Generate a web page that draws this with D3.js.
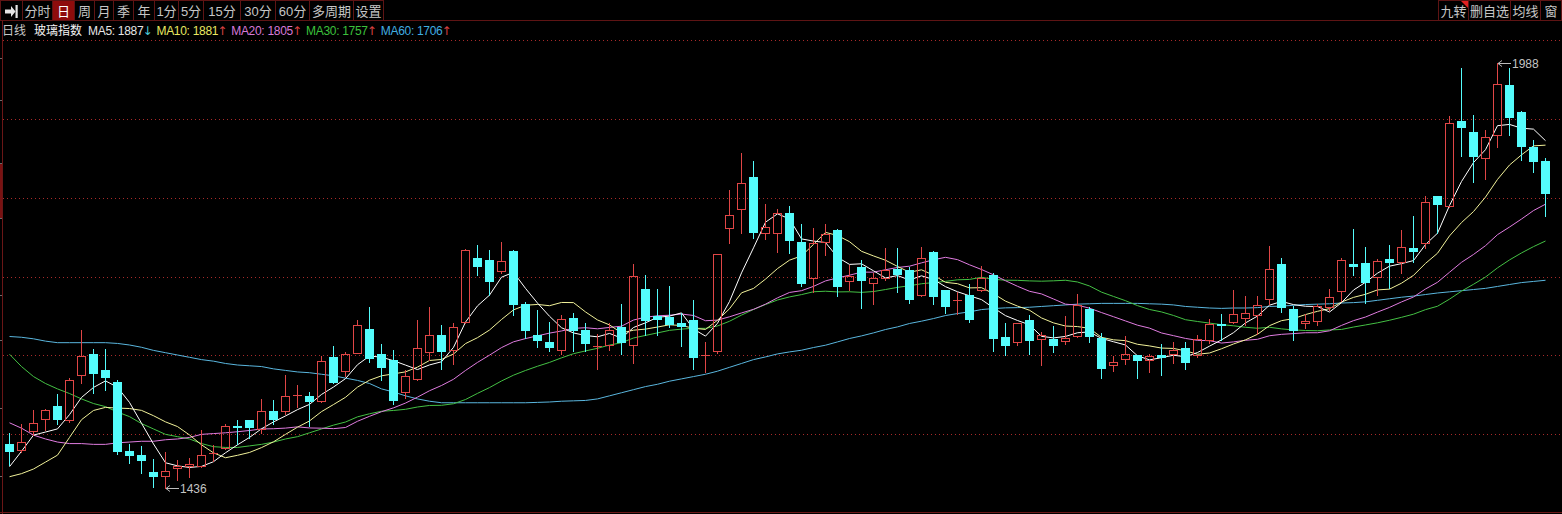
<!DOCTYPE html>
<html><head><meta charset="utf-8">
<script src="https://cdn.jsdelivr.net/npm/d3@7"></script>
<style>
html,body{margin:0;padding:0;background:#000;overflow:hidden}
svg{display:block}
text{font-family:"Liberation Sans",Arial,"Noto Sans CJK SC",sans-serif}
</style></head><body>
<svg id="c" width="1562" height="514"></svg>
<script>
// ---------------- data ----------------
const opens = [
1494.0,1486.2,1510.4,1526.4,1542.5,1525.1,1582.7,1610.0,1590.1,1573.6,
1484.0,1478.8,1456.7,1452.4,1462.8,1464.6,1464.6,1481.0,1488.8,1517.0,
1524.3,1513.5,1536.0,1536.4,1556.0,1555.5,1549.4,1606.5,1588.4,1611.7,
1642.5,1610.9,1603.1,1561.1,1578.4,1613.0,1635.6,1615.2,1652.0,1734.3,
1732.1,1718.3,1744.2,1675.8,1635.6,1625.6,1616.1,1657.6,1641.2,1619.0,
1621.7,1645.5,1621.7,1695.3,1659.0,1658.5,1650.0,1654.2,1608.0,1614.3,
1773.3,1797.9,1840.4,1767.6,1767.6,1792.7,1755.9,1709.6,1755.9,1771.1,
1705.3,1723.5,1702.7,1709.6,1720.0,1719.1,1686.7,1742.9,1693.1,1680.0,
1686.7,1694.0,1712.6,1632.5,1626.0,1654.2,1630.4,1630.4,1627.3,1633.4,
1669.3,1631.7,1595.7,1604.4,1608.7,1603.1,1608.5,1610.9,1618.7,1608.7,
1628.2,1649.0,1652.0,1657.6,1661.5,1682.3,1726.9,1669.3,1649.9,1653.3,
1671.5,1692.3,1727.0,1728.7,1710.5,1733.0,1730.0,1748.0,1753.8,1815.3,
1802.3,1913.1,1898.8,1864.2,1894.5,1959.4,1924.8,1878.5,1861.2];
const highs = [
1507.8,1519.1,1537.3,1539.0,1558.1,1579.0,1641.2,1617.4,1617.4,1577.1,
1493.1,1490.5,1474.5,1483.1,1473.2,1475.8,1511.3,1491.8,1519.9,1525.1,
1525.0,1552.4,1550.3,1582.7,1569.7,1561.1,1607.4,1620.4,1613.0,1654.2,
1671.5,1623.9,1615.2,1589.2,1655.0,1671.5,1647.7,1649.9,1746.0,1751.6,
1745.1,1755.9,1745.0,1678.0,1667.2,1652.0,1660.7,1663.7,1650.7,1636.9,
1649.9,1675.0,1726.9,1712.6,1695.3,1698.3,1663.7,1681.0,1626.0,1740.0,
1823.0,1870.7,1860.7,1804.9,1797.9,1802.3,1778.9,1773.3,1778.9,1772.0,
1725.6,1732.1,1714.8,1747.3,1747.3,1723.5,1748.6,1744.0,1693.5,1691.0,
1701.8,1724.3,1715.0,1649.9,1651.0,1660.7,1639.0,1646.4,1659.4,1687.9,
1671.0,1637.7,1607.4,1633.4,1609.0,1610.9,1623.9,1626.0,1626.0,1634.7,
1656.3,1662.0,1694.0,1685.4,1685.4,1750.3,1734.3,1672.0,1662.0,1675.8,
1695.3,1734.3,1772.0,1748.6,1733.0,1751.6,1771.1,1789.3,1815.3,1816.0,
1919.2,1981.1,1920.5,1901.0,1988.0,1981.1,1926.0,1888.0,1864.2];
const lows = [
1465.8,1483.0,1504.8,1511.3,1519.9,1522.1,1572.8,1559.8,1563.2,1480.1,
1468.9,1455.9,1437.7,1436.0,1447.2,1450.7,1463.0,1471.5,1487.5,1494.0,
1501.8,1507.8,1519.9,1532.9,1541.6,1516.5,1548.0,1572.8,1581.4,1611.0,
1600.1,1576.2,1545.9,1553.7,1576.2,1602.2,1591.4,1597.9,1650.0,1712.6,
1686.7,1714.8,1660.7,1631.7,1619.5,1614.3,1610.0,1614.3,1614.3,1591.4,
1615.2,1610.0,1598.8,1634.7,1634.7,1645.5,1620.4,1591.4,1587.1,1612.0,
1754.6,1767.6,1760.3,1759.0,1742.9,1740.8,1698.3,1691.0,1738.6,1685.4,
1694.0,1670.6,1675.8,1706.1,1691.0,1676.7,1686.0,1675.0,1663.7,1662.0,
1652.0,1692.0,1614.3,1608.7,1621.7,1610.0,1595.7,1613.0,1623.0,1632.0,
1626.0,1579.7,1588.4,1597.0,1579.7,1587.1,1582.7,1598.8,1591.4,1607.0,
1624.7,1628.2,1650.0,1647.7,1636.0,1675.8,1665.0,1628.2,1643.4,1647.7,
1668.0,1679.3,1712.6,1676.7,1686.7,1696.6,1715.7,1730.0,1747.3,1767.6,
1801.0,1867.2,1833.9,1836.9,1878.5,1894.5,1862.0,1846.9,1789.3];
const closes = [
1484.4,1496.1,1520.8,1538.1,1526.0,1577.1,1607.4,1585.8,1580.6,1484.4,
1478.8,1472.3,1451.5,1458.5,1464.5,1468.0,1479.7,1482.0,1516.5,1516.0,
1515.6,1536.0,1526.4,1555.5,1557.0,1549.4,1600.9,1574.1,1610.0,1647.7,
1605.7,1593.6,1551.1,1581.4,1618.7,1635.6,1614.3,1644.7,1745.1,1724.3,
1705.3,1730.8,1675.8,1641.2,1629.1,1619.5,1656.3,1642.1,1624.7,1620.5,
1641.2,1626.0,1711.3,1655.0,1656.0,1649.0,1647.0,1606.5,1609.0,1739.5,
1790.6,1832.6,1768.9,1775.4,1793.6,1758.1,1702.7,1754.6,1765.9,1698.3,
1711.3,1707.0,1709.2,1719.1,1713.9,1682.3,1734.3,1685.4,1672.4,1681.0,
1656.3,1709.6,1631.7,1621.7,1649.9,1628.2,1634.7,1621.7,1631.2,1673.7,
1633.4,1592.7,1600.1,1610.0,1603.1,1607.4,1607.0,1616.1,1600.1,1630.4,
1649.0,1647.5,1662.8,1663.7,1674.5,1720.0,1671.5,1642.1,1653.3,1672.4,
1684.5,1732.1,1724.0,1704.0,1731.3,1730.0,1748.6,1744.0,1807.9,1804.9,
1909.6,1904.5,1867.2,1891.5,1960.7,1917.4,1880.2,1861.2,1819.6];

const ma5 = [
1464,1484,1505,1509,1513.1,1531.6,1553.9,1566.9,1575.4,1567.1,
1547.4,1520.4,1493.5,1469.1,1465.1,1463.0,1464.4,1470.5,1482.1,1492.4,
1502.0,1513.2,1522.1,1529.9,1538.1,1544.9,1557.8,1567.4,1578.3,1596.4,
1607.7,1606.2,1601.6,1595.9,1590.1,1596.1,1600.2,1618.9,1651.7,1672.8,
1686.7,1710.0,1716.3,1695.5,1676.4,1659.3,1644.4,1637.6,1634.3,1632.6,
1637.0,1630.9,1644.7,1650.8,1657.9,1659.5,1663.7,1642.7,1633.5,1650.2,
1678.5,1715.6,1748.1,1781.4,1792.2,1785.7,1759.7,1756.9,1755.0,1735.9,
1726.6,1727.4,1718.3,1709.0,1712.1,1706.3,1711.8,1707.0,1697.7,1691.1,
1685.9,1680.9,1670.2,1660.1,1653.8,1648.2,1633.2,1631.2,1633.1,1637.9,
1638.9,1630.5,1626.2,1622.0,1607.9,1602.7,1605.5,1608.7,1606.7,1612.2,
1620.5,1628.6,1638.0,1650.7,1659.5,1673.7,1678.5,1674.4,1672.3,1671.9,
1664.8,1676.9,1693.3,1703.4,1715.2,1724.3,1727.6,1731.6,1752.4,1767.1,
1803.0,1834.2,1858.8,1875.5,1906.7,1908.3,1903.4,1902.2,1887.2];
const ma10 = [
1451,1455,1461,1470,1479,1502,1525,1537,1541,1540.1,
1539.5,1537.1,1530.2,1522.2,1516.1,1505.2,1492.4,1482.0,1475.6,1478.8,
1482.5,1488.8,1496.3,1506.0,1515.3,1523.4,1535.5,1544.7,1554.1,1567.3,
1576.3,1582.0,1584.5,1587.1,1593.3,1601.9,1603.2,1610.3,1623.8,1631.5,
1641.4,1655.1,1667.6,1673.6,1674.6,1673.0,1677.2,1677.0,1664.9,1654.5,
1648.1,1637.6,1641.2,1642.6,1645.3,1648.2,1647.3,1643.7,1642.2,1654.1,
1669.0,1689.7,1695.4,1707.5,1721.2,1732.1,1737.7,1752.5,1768.2,1764.1,
1756.1,1743.6,1737.6,1732.0,1724.0,1716.4,1719.6,1712.7,1703.3,1701.6,
1696.1,1696.4,1688.6,1678.9,1672.5,1667.1,1657.1,1650.7,1646.6,1645.9,
1643.6,1631.9,1628.7,1627.6,1622.9,1620.8,1618.0,1617.5,1614.4,1610.0,
1611.6,1617.1,1623.3,1628.7,1635.9,1647.1,1653.6,1656.2,1661.5,1665.7,
1669.2,1677.7,1683.8,1687.8,1693.5,1694.5,1702.2,1712.4,1727.9,1741.1,
1763.6,1780.9,1795.2,1814.0,1836.9,1855.6,1868.8,1880.5,1881.4];
const ma20 = [
1521,1514,1505,1500,1496,1494,1494,1493,1493,1495,
1496,1497,1497,1499,1500,1502,1506,1507,1508,1509.4,
1511.0,1513.0,1513.3,1514.1,1515.7,1514.3,1514.0,1513.4,1514.9,1523.0,
1529.4,1535.4,1540.4,1546.6,1554.3,1562.6,1569.4,1577.5,1588.9,1599.4,
1608.8,1618.6,1626.1,1630.3,1633.9,1637.4,1640.2,1643.6,1644.4,1643.0,
1644.8,1646.4,1654.4,1658.1,1659.9,1660.6,1662.2,1660.3,1653.5,1654.3,
1658.6,1663.6,1668.3,1675.0,1683.2,1690.2,1692.5,1698.1,1705.2,1709.1,
1712.6,1716.6,1716.5,1719.7,1722.6,1724.3,1728.6,1732.6,1735.8,1732.8,
1726.1,1720.0,1713.1,1705.4,1698.2,1691.7,1688.3,1681.7,1675.0,1673.7,
1669.8,1664.1,1658.7,1653.2,1647.7,1643.9,1637.6,1634.1,1630.5,1628.0,
1627.6,1624.5,1626.0,1628.1,1629.4,1634.0,1635.8,1636.8,1637.9,1637.9,
1640.4,1647.4,1653.6,1658.3,1664.7,1670.8,1677.9,1684.3,1694.7,1703.4,
1716.4,1729.3,1739.5,1750.9,1765.2,1775.1,1785.5,1796.5,1804.8];
const ma30 = [
1610,1594,1581,1572,1565,1559,1552,1546,1542,1535,
1529,1520,1513,1506,1503,1500,1494,1490,1489,1489,
1491,1493,1496,1500,1503,1508,1513,1518,1522,1528.7,
1532.7,1536.0,1537.0,1538.5,1541.5,1543.5,1543.7,1545.7,1551.2,1559.2,
1566.7,1575.3,1582.8,1588.9,1594.4,1599.4,1605.3,1610.7,1614.3,1617.7,
1621.9,1624.9,1631.1,1634.4,1637.7,1641.0,1642.6,1643.7,1643.6,1646.7,
1652.8,1660.8,1668.1,1674.5,1680.4,1684.4,1687.4,1691.1,1691.8,1690.9,
1691.1,1690.3,1691.4,1694.0,1696.8,1698.9,1701.5,1703.0,1704.6,1706.6,
1707.1,1709.9,1707.2,1706.1,1705.9,1705.2,1704.8,1705.3,1706.0,1703.8,
1698.6,1690.6,1685.0,1679.5,1673.1,1668.1,1664.9,1660.3,1654.8,1652.5,
1650.4,1648.4,1646.9,1645.0,1643.7,1645.0,1642.9,1641.5,1640.8,1640.5,
1641.5,1642.2,1645.3,1648.0,1650.8,1654.1,1657.9,1662.0,1667.9,1672.3,
1681.5,1691.9,1700.8,1710.2,1722.1,1732.4,1741.5,1749.7,1757.0];
const ma60 = [
1633,1632,1630,1627,1625,1625,1625,1625,1625,1624,
1622,1619,1615,1612,1609,1606,1603,1601,1598,1596,
1595,1594,1591,1589,1587,1586,1584,1582,1579,1576,
1572,1565,1561,1556,1552,1549,1547,1547,1547,1547,
1547,1547,1547,1547,1547.5,1548,1549,1549.5,1550,1552,
1556,1560,1564,1568,1571,1575,1578,1581,1584,1588,
1593,1598,1603,1606.5,1610.4,1613,1615.2,1618.7,1621.7,1626,
1630.4,1633.8,1637.7,1642.1,1645.5,1649.9,1652.9,1656.3,1660.2,1662.8,
1665,1668,1669.3,1670.2,1670.5,1671,1672,1673,1674,1675,
1675.5,1676,1676,1676,1676,1675.5,1675,1674,1672,1671,
1670,1669.5,1670,1670,1670.5,1672,1672.5,1673.5,1674.5,1675,
1675.5,1676.5,1677,1678,1680,1682,1684,1685.5,1687.5,1689.5,
1691,1692.5,1694,1695.5,1698,1700.5,1703,1704.5,1706];

const maNames = ["MA5","MA10","MA20","MA30","MA60"];
const periodTabs = ["分时","日","周","月","季","年","1分","5分","15分","30分","60分","多周期","设置"];
const activeTab = "日";
const rightTabs = ["九转","删自选","均线","窗"];
const periodName = "日线";
const indexName = "玻璃指数";
const priceDomain = [1403.9, 2017.9];

// ---------------- layout / style ----------------
const W = 1562, H = 514;
const plotTop = 40, plotBottom = 513;
const UP = "#e04646", DOWN = "#54fcfc";
const maColors = ["#ffffff", "#f2f29a", "#e07ce0", "#44c044", "#5ab6de"];
const maTextColors = ["#e6e6e6", "#e8e860", "#d87ad8", "#3cc03c", "#40aee0"];
const BORDER = "#5e1414";
const tabEdges = [0, 22, 52, 74, 94, 113, 133, 154, 178, 203, 240, 275, 309, 353, 383];
const rightEdges = [1438, 1468, 1510, 1540, 1561];

const svg = d3.select("#c");
svg.append("rect").attr("width", W).attr("height", H).attr("fill", "#000");

const N = closes.length;
const x = d3.scaleBand().domain(d3.range(N)).range([3.5, 1551.5]).paddingInner(0.25).paddingOuter(0.125);
const bw = x.bandwidth();
const cxPix = i => Math.round(x(i) + (bw - 1) / 2);   // wick pixel column
const cxc = i => x(i) + bw / 2;
const y = d3.scaleLinear().domain(priceDomain).range([plotBottom, plotTop]);
const py = v => Math.round(y(v));

// ---------------- grid ----------------
const gridG = svg.append("g");
d3.range(6).forEach(k => {
  const gy = Math.round(plotTop + k * (plotBottom - plotTop) / 6) + 0.5;
  gridG.append("line").attr("x1", 3).attr("x2", W).attr("y1", gy).attr("y2", gy)
    .attr("stroke", "#a82a2a").attr("stroke-width", 1).attr("stroke-dasharray", "1,3")
    .attr("shape-rendering", "crispEdges");
});
// frame
svg.append("line").attr("x1", 0).attr("x2", W).attr("y1", 20.5).attr("y2", 20.5)
  .attr("stroke", BORDER).attr("shape-rendering", "crispEdges");
svg.append("line").attr("x1", 2.5).attr("x2", 2.5).attr("y1", 21).attr("y2", H)
  .attr("stroke", "#6a1616").attr("shape-rendering", "crispEdges");
svg.append("line").attr("x1", 0).attr("x2", W).attr("y1", 512.5).attr("y2", 512.5)
  .attr("stroke", "#6a1616").attr("shape-rendering", "crispEdges");
svg.append("rect").attr("x", 0).attr("y", 163).attr("width", 2).attr("height", 55).attr("fill", "#7a1212");
[58, 100, 163, 218, 295, 340, 408, 476].forEach(ty => {
  svg.append("line").attr("x1", 0).attr("x2", 2).attr("y1", ty + 0.5).attr("y2", ty + 0.5)
    .attr("stroke", "#6c6c6c").attr("shape-rendering", "crispEdges");
});

// ---------------- MA lines (under candles) ----------------
const maSeries = [ma5, ma10, ma20, ma30, ma60];
const lineGen = d3.line().x((d, i) => cxc(i)).y(d => y(d));
const maG = svg.append("g");
[4, 3, 2, 1, 0].forEach(k => {
  maG.append("path").datum(maSeries[k]).attr("d", lineGen)
    .attr("fill", "none").attr("stroke", maColors[k]).attr("stroke-width", 1);
});

// ---------------- candles ----------------
const candles = d3.range(N).map(i => ({ i, o: opens[i], h: highs[i], l: lows[i], c: closes[i] }));
const cg = svg.append("g").attr("shape-rendering", "crispEdges");
candles.forEach(d => {
  const up = d.c >= d.o;
  const top = py(Math.max(d.o, d.c)), bot = py(Math.min(d.o, d.c));
  const hy = py(d.h), ly = py(d.l);
  const wx = cxPix(d.i) + 0.5;
  const col = up ? UP : DOWN;
  if (up) {
    if (bot - top < 2) {
      cg.append("line").attr("x1", wx).attr("x2", wx).attr("y1", hy).attr("y2", ly + 1).attr("stroke", col);
      cg.append("rect").attr("x", x(d.i)).attr("y", top).attr("width", bw).attr("height", 1).attr("fill", col);
    } else {
      if (top > hy) cg.append("line").attr("x1", wx).attr("x2", wx).attr("y1", hy).attr("y2", top).attr("stroke", col);
      if (ly > bot) cg.append("line").attr("x1", wx).attr("x2", wx).attr("y1", bot + 1).attr("y2", ly + 1).attr("stroke", col);
      cg.append("rect").attr("x", x(d.i) + 0.5).attr("y", top + 0.5).attr("width", bw - 1).attr("height", bot - top)
        .attr("fill", "none").attr("stroke", col);
    }
  } else {
    cg.append("line").attr("x1", wx).attr("x2", wx).attr("y1", hy).attr("y2", ly + 1).attr("stroke", col);
    cg.append("rect").attr("x", x(d.i)).attr("y", top).attr("width", bw).attr("height", Math.max(1, bot - top + 1)).attr("fill", col);
  }
});

// ---------------- high / low markers ----------------
const hiIdx = d3.maxIndex(highs), loIdx = d3.minIndex(lows);
function marker(i, v) {
  const mx = cxPix(i) + 1, my = py(v) + 0.5;
  const g = svg.append("g");
  g.append("line").attr("x1", mx).attr("x2", mx + 13).attr("y1", my).attr("y2", my).attr("stroke", "#bdbdbd");
  g.append("path").attr("d", `M${mx + 4},${my - 3} L${mx},${my} L${mx + 4},${my + 3}`)
    .attr("fill", "none").attr("stroke", "#bdbdbd");
  g.append("text").attr("x", mx + 14).attr("y", my + 4.5).attr("font-size", 12).attr("fill", "#c4c4c4")
    .text(Math.round(v));
}
marker(hiIdx, highs[hiIdx]);
marker(loIdx, lows[loIdx]);

// ---------------- top toolbar ----------------
const tb = svg.append("g").attr("shape-rendering", "crispEdges");
for (let k = 0; k < tabEdges.length - 1; k++) {
  const x0 = tabEdges[k], x1 = tabEdges[k + 1];
  const label = k === 0 ? null : periodTabs[k - 1];
  const active = label === activeTab;
  tb.append("rect").attr("x", x0 + 0.5).attr("y", 0.5).attr("width", x1 - x0).attr("height", 20)
    .attr("fill", active ? "#8e0c0c" : "#000").attr("stroke", BORDER);
  if (label) {
    svg.append("text").attr("x", (x0 + x1) / 2 + 0.5).attr("y", 16).attr("text-anchor", "middle")
      .attr("font-size", 13).attr("fill", active ? "#ffffff" : "#c6c6c6").text(label);
  }
}
// icon (arrow to bar)
svg.append("path").attr("d", "M5,9.5 H11 V6 L15.5,11.5 L11,17 V13.5 H5 Z").attr("fill", "#e4e4e4");
svg.append("rect").attr("x", 15.5).attr("y", 5).attr("width", 2.2).attr("height", 13).attr("fill", "#e4e4e4");

for (let k = 0; k < rightTabs.length; k++) {
  const x0 = rightEdges[k], x1 = rightEdges[k + 1];
  tb.append("rect").attr("x", x0 + 0.5).attr("y", 0.5).attr("width", x1 - x0).attr("height", 20)
    .attr("fill", "#000").attr("stroke", BORDER);
  svg.append("text").attr("x", (x0 + x1) / 2 + 0.5).attr("y", 16).attr("text-anchor", "middle")
    .attr("font-size", 13).attr("fill", "#c6c6c6").text(rightTabs[k]);
}
svg.append("path").attr("d", `M${rightEdges[1] - 7},1 L${rightEdges[1]},1 L${rightEdges[1]},8 Z`).attr("fill", "#e02020");

// ---------------- legend ----------------
const lg = svg.append("text").attr("x", 2).attr("y", 35).attr("font-size", 12);
lg.append("tspan").attr("fill", "#c8c8c8").text(periodName);
lg.append("tspan").attr("dx", 8).attr("fill", "#f4f4f4").text(indexName);
maSeries.forEach((s, k) => {
  const last = s[s.length - 1], prev = s[s.length - 2];
  const rising = last >= prev;
  lg.append("tspan").attr("dx", k === 0 ? 6 : 4).attr("fill", maTextColors[k])
    .attr("letter-spacing", -0.3)
    .text(`${maNames[k]}: ${Math.round(last)}`);
  lg.append("tspan").attr("dx", -1).attr("fill", rising ? "#d84040" : "#4cc8d8")
    .attr("letter-spacing", 0)
    .attr("font-family", "DejaVu Sans").attr("font-size", 12).text(rising ? "↑" : "↓");
});
</script>
</body></html>
